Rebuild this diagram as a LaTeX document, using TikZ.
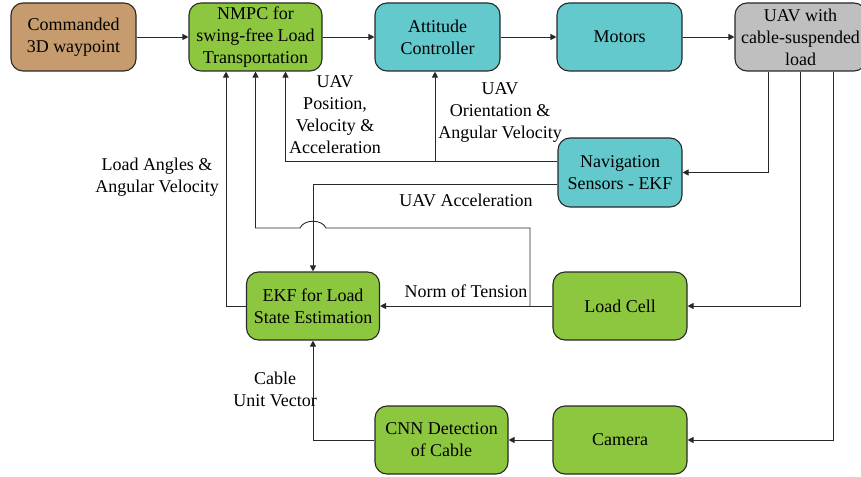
\documentclass[tikz,border=0pt]{standalone}
\usepackage{fontspec}
\setmainfont{Liberation Serif}
\usetikzlibrary{arrows.meta}
\definecolor{cbrown}{RGB}{198,155,109}
\definecolor{cgreen}{RGB}{141,198,63}
\definecolor{cteal}{RGB}{99,201,205}
\definecolor{cgray}{RGB}{191,191,191}
\definecolor{cline}{RGB}{40,40,40}
\tikzset{
  blk/.style={draw=cline, line width=1.1pt, rounded corners=12pt, align=center,
    font=\fontsize{18}{22}\selectfont, inner sep=0pt},
  lbl/.style={align=center, font=\fontsize{18}{22}\selectfont, inner sep=0pt},
  arr/.style={draw=cline, line width=0.9pt, -{Triangle[length=6pt,width=6pt]}},
}
\begin{document}
\begin{tikzpicture}[x=1pt,y=-1pt]
\clip (0,0) rectangle (861,476);
% blocks
\node[blk, fill=cbrown, minimum width=125pt, minimum height=68pt] (cmd) at (73.5,37) {Commanded\\3D waypoint};
\node[blk, fill=cgreen, minimum width=133pt, minimum height=68pt] (nmpc) at (255.5,37) {NMPC for\\swing-free Load\\Transportation};
\node[blk, fill=cteal, minimum width=125pt, minimum height=68pt] (att) at (437.5,37) {Attitude\\Controller};
\node[blk, fill=cteal, minimum width=125pt, minimum height=68pt] (mot) at (619.5,37) {Motors};
\node[blk, fill=cgray, minimum width=131pt, minimum height=68pt] (uav) at (800.5,37) {UAV with\\cable-suspended\\load};
\node[blk, fill=cteal, minimum width=124pt, minimum height=69pt] (nav) at (620,172.5) {Navigation\\Sensors - EKF};
\node[blk, fill=cgreen, minimum width=133pt, minimum height=68pt] (ekf) at (313,306) {EKF for Load\\State Estimation};
\node[blk, fill=cgreen, minimum width=134pt, minimum height=68pt] (lc) at (620,306) {Load Cell};
\node[blk, fill=cgreen, minimum width=133pt, minimum height=68pt] (cnn) at (441.5,440) {CNN Detection\\of Cable};
\node[blk, fill=cgreen, minimum width=134pt, minimum height=68pt] (cam) at (620,440) {Camera};
% top chain
\draw[arr] (cmd) -- (nmpc);
\draw[arr] (nmpc) -- (att);
\draw[arr] (att) -- (mot);
\draw[arr] (mot) -- (uav);
% from UAV down
\draw[arr] ([xshift=-32.5pt]uav.south) |- (nav.east);
\draw[arr] (uav.south) |- (lc.east);
\draw[arr] ([xshift=32.5pt]uav.south) |- (cam.east);
% navigation outputs
\draw[arr] ([yshift=11.5pt]nav.west) -| ([xshift=30pt]nmpc.south);
\coordinate (j1) at (435,161);
\draw[arr] (j1) -- (j1 |- att.south);
\draw[arr] ([yshift=-11.5pt]nav.west) -| (ekf.north);
% load cell
\draw[arr] (lc.west) -- (ekf.east);
\coordinate (j2) at (530,306);
\coordinate (b1) at (326,228);
\coordinate (b2) at (300,228);
\draw[arr] (j2) |- (b1) .. controls (322,219) and (304,219) .. (b2) -| (nmpc.south);
% EKF to NMPC
\draw[arr] (ekf.west) -| ([xshift=-29.5pt]nmpc.south);
% camera chain
\draw[arr] (cam.west) -- (cnn.east);
\draw[arr] (cnn.west) -| (ekf.south);
% labels
\node[lbl] (l1) at (335,115) {UAV\\Position,\\Velocity \&\\Acceleration};
\node[lbl] (l2) at (500,113) {UAV\\Orientation \&\\Angular Velocity};
\node[lbl] (l3) at (157,177) {Load Angles \&\\Angular Velocity};
\node[lbl] (l4) at (466,200) {UAV Acceleration};
\node[lbl] (l5) at (466,291) {Norm of Tension};
\node[lbl] (l6) at (275,389) {Cable\\Unit Vector};
\end{tikzpicture}
\end{document}
